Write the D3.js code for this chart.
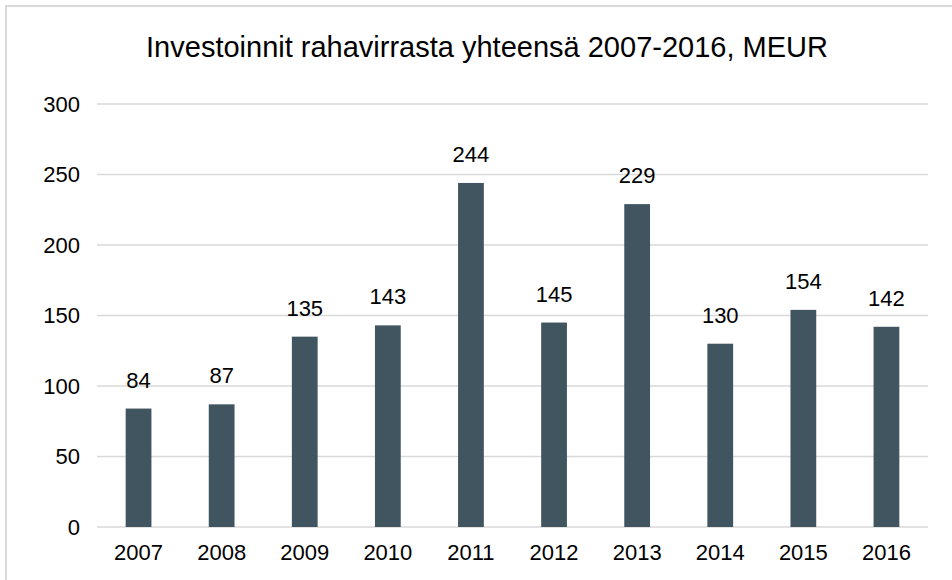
<!DOCTYPE html>
<html>
<head>
<meta charset="utf-8">
<script src="https://cdn.jsdelivr.net/npm/d3@7"></script>
<style>
  body { margin: 0; background: #fff; }
  #chart { width: 952px; height: 580px; }
  text { font-family: "Liberation Sans", Arial, sans-serif; fill: #000; }
</style>
</head>
<body>
<div id="chart"></div>
<script>
var years = ["2007", "2008", "2009", "2010", "2011", "2012", "2013", "2014", "2015", "2016"];
var values = [84, 87, 135, 143, 244, 145, 229, 130, 154, 142];
var yTicks = [0, 50, 100, 150, 200, 250, 300];
var title = "Investoinnit rahavirrasta yhteensä 2007-2016, MEUR";

var svgWidth = 952, svgHeight = 580;
var margin = { top: 104, right: 24, bottom: 53, left: 97 };
var width = svgWidth - margin.left - margin.right;
var height = svgHeight - margin.top - margin.bottom;

var root = d3.select("#chart").append("svg")
    .attr("width", svgWidth)
    .attr("height", svgHeight);

// chart frame
root.append("rect")
    .attr("x", 6).attr("y", 6)
    .attr("width", 980).attr("height", 600)
    .attr("fill", "none")
    .attr("stroke", "#d9d9d9")
    .attr("stroke-width", 2);

root.append("text")
    .attr("x", 487)
    .attr("y", 57)
    .attr("text-anchor", "middle")
    .style("font-size", "29px")
    .text(title);

var svg = root.append("g")
    .attr("transform", "translate(" + margin.left + "," + margin.top + ")");

var xScale = d3.scaleBand()
    .domain(years)
    .range([0, width])
    .paddingInner(0.69)
    .paddingOuter(0.345);

var yScale = d3.scaleLinear()
    .domain([0, 300])
    .range([height, 0]);

// gridlines
svg.append("g")
    .selectAll("line")
    .data(yTicks)
    .join("line")
    .attr("x1", 0).attr("x2", width)
    .attr("y1", function(d) { return yScale(d); })
    .attr("y2", function(d) { return yScale(d); })
    .attr("stroke", "#d9d9d9")
    .attr("stroke-width", 1.5);

// y axis labels
var yAxis = d3.axisLeft(yScale).tickValues(yTicks).tickSize(0).tickPadding(17);
var yAxisGroup = svg.append("g").call(yAxis);
yAxisGroup.select(".domain").remove();
yAxisGroup.selectAll("text").style("font-size", "22px").attr("fill", "#000");

// bars
svg.selectAll(".bar")
    .data(values)
    .join("rect")
    .attr("class", "bar")
    .attr("x", function(d, i) { return xScale(years[i]); })
    .attr("width", xScale.bandwidth())
    .attr("y", function(d) { return yScale(d); })
    .attr("height", function(d) { return height - yScale(d); })
    .attr("fill", "#405560");

// value labels
svg.selectAll(".val")
    .data(values)
    .join("text")
    .attr("class", "val")
    .attr("x", function(d, i) { return xScale(years[i]) + xScale.bandwidth() / 2; })
    .attr("y", function(d) { return yScale(d) - 21; })
    .attr("text-anchor", "middle")
    .style("font-size", "22px")
    .text(function(d) { return d; });

// x axis
var xAxis = d3.axisBottom(xScale).tickSize(0).tickPadding(17);
var xAxisGroup = svg.append("g")
    .attr("transform", "translate(0," + height + ")")
    .call(xAxis);
xAxisGroup.select(".domain").remove();
xAxisGroup.selectAll("text").style("font-size", "22px").attr("fill", "#000");
</script>
</body>
</html>
